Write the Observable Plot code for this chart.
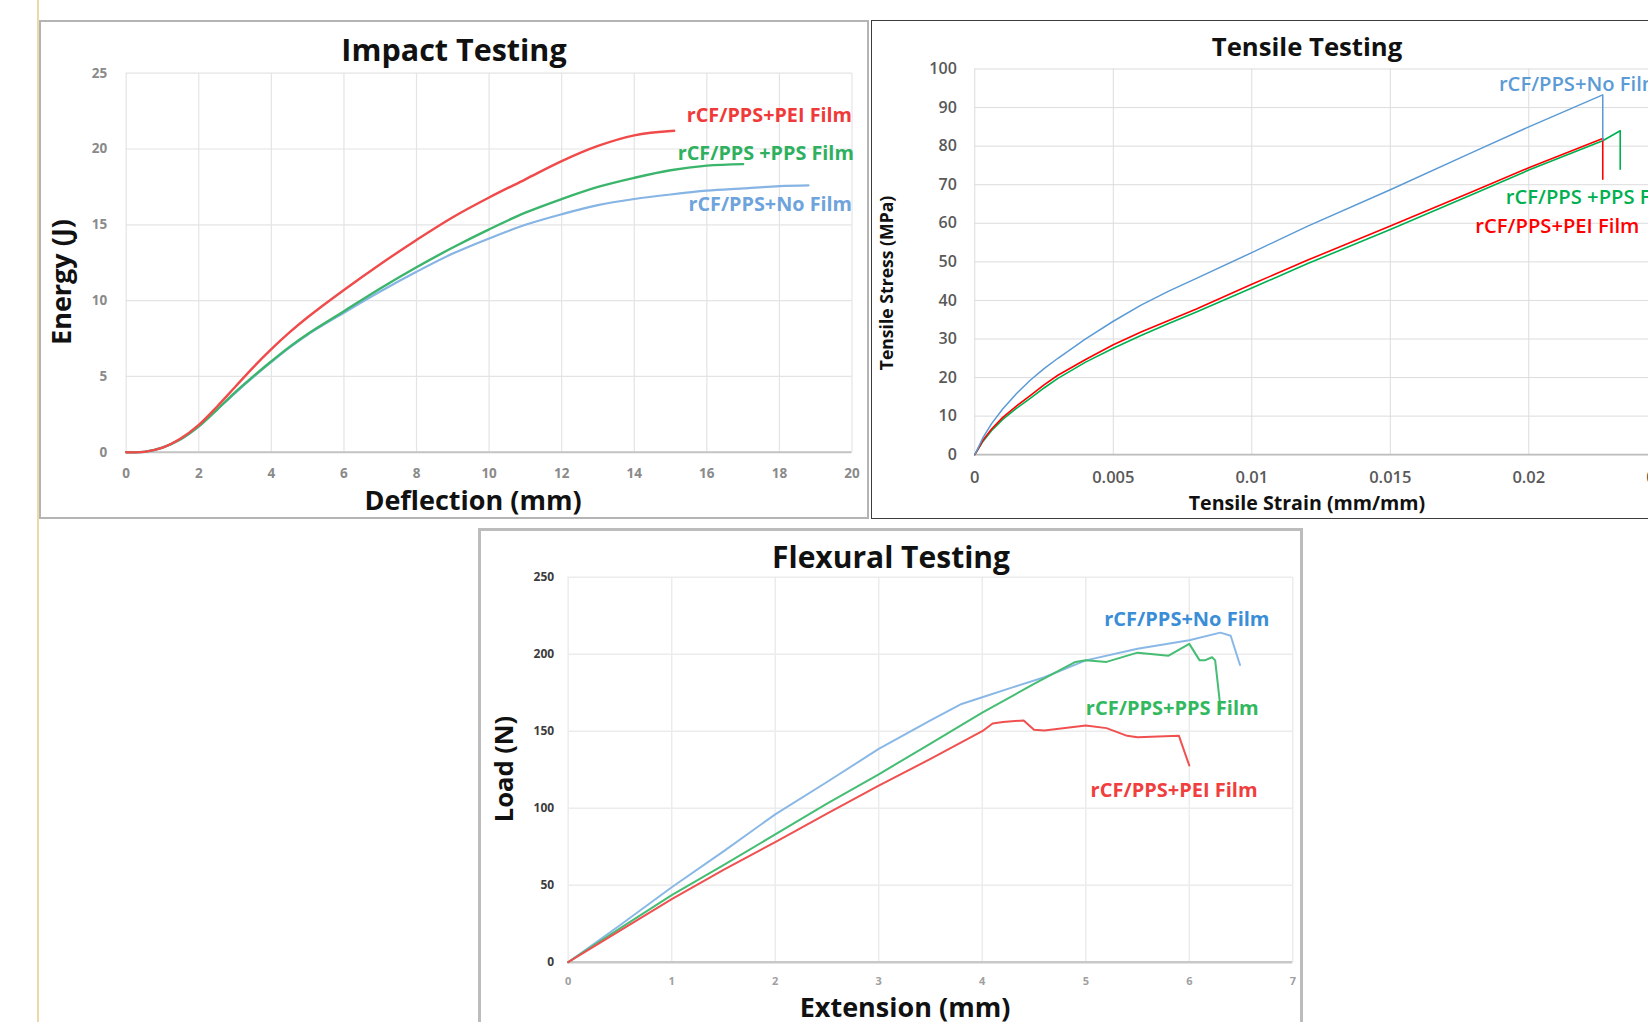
<!DOCTYPE html>
<html><head><meta charset="utf-8">
<script src="https://cdn.jsdelivr.net/npm/d3@7"></script>
<script src="https://cdn.jsdelivr.net/npm/@observablehq/plot@0.6"></script>
<style>
html,body{margin:0;padding:0;background:#fff;}
body{width:1648px;height:1022px;overflow:hidden;position:relative;font-family:"Open Sans",sans-serif;}
.panel{position:absolute;box-sizing:border-box;background:#fff;}
.panel svg{position:absolute;left:0;top:0;overflow:visible;}
.t{position:absolute;white-space:nowrap;line-height:1;font-weight:700;color:#111;font-family:"Open Sans",sans-serif;}
</style></head><body>
<div style="position:absolute;left:37px;top:0;width:1.5px;height:1022px;background:#eed8a8"></div>
<div id="impact" class="panel" style="left:39px;top:20px;width:830px;height:499px;border:2px solid #b4b4b4"></div>
<div id="tensile" class="panel" style="left:871px;top:20px;width:900px;height:499px;border:1px solid #3c3c3c"></div>
<div id="flexural" class="panel" style="left:478px;top:528px;width:825px;height:520px;border:3px solid #bcbcbc"></div>
<script>
// ---------------- Impact Testing ----------------
const impactXTicks = [0, 2, 4, 6, 8, 10, 12, 14, 16, 18, 20];
const impactYTicks = [0, 5, 10, 15, 20, 25];
const impactPEI_x = [0, 0.5, 1, 1.5, 2, 2.5, 3, 3.5, 4, 4.5, 5, 6, 7, 8, 9, 10, 11, 12, 13, 14, 15.1];
const impactPEI_y = [0, 0.02, 0.3, 0.9, 1.8, 3.0, 4.3, 5.6, 6.8, 7.9, 8.9, 10.7, 12.4, 14.0, 15.5, 16.8, 18.0, 19.2, 20.2, 20.9, 21.2];
const impactPPS_x = [0, 0.5, 1, 1.5, 2, 2.5, 3, 3.5, 4, 4.5, 5, 6, 7, 8, 9, 10, 11, 12, 13, 14, 15, 16, 17];
const impactPPS_y = [0, 0.02, 0.3, 0.85, 1.7, 2.8, 3.95, 5.0, 6.0, 6.95, 7.8, 9.3, 10.8, 12.2, 13.5, 14.7, 15.8, 16.7, 17.5, 18.1, 18.6, 18.9, 19.0];
const impactNo_x = [0, 0.5, 1, 1.5, 2, 2.5, 3, 3.5, 4, 4.5, 5, 6, 7, 8, 9, 10, 11, 12, 13, 14, 15, 16, 17, 18, 18.8];
const impactNo_y = [0, 0.02, 0.3, 0.85, 1.7, 2.8, 3.9, 4.95, 5.95, 6.9, 7.75, 9.2, 10.6, 11.9, 13.1, 14.1, 15.0, 15.7, 16.3, 16.7, 17.0, 17.25, 17.4, 17.55, 17.6];
const impactLabels = ["rCF/PPS+PEI Film", "rCF/PPS +PPS Film", "rCF/PPS+No Film"];
const impactLabelX = [20, 20.05, 20];
const impactLabelY = [22.2, 19.7, 16.3];

// ---------------- Tensile Testing ----------------
const tensileXTicks = [0, 0.005, 0.01, 0.015, 0.02, 0.025];
const tensileYTicks = [0, 10, 20, 30, 40, 50, 60, 70, 80, 90, 100];
const tensileNo_x = [0, 0.0003, 0.0006, 0.001, 0.0015, 0.002, 0.0025, 0.003, 0.004, 0.005, 0.006, 0.007, 0.008, 0.01, 0.012, 0.015, 0.018, 0.02, 0.02267, 0.02267];
const tensileNo_y = [0, 4.5, 8, 11.8, 15.8, 19.3, 22.3, 25, 30, 34.6, 38.8, 42.4, 45.7, 52.4, 59.2, 68.7, 78.5, 85, 93.3, 81.5];
const tensilePEI_x = [0, 0.0003, 0.0006, 0.001, 0.0015, 0.002, 0.0025, 0.003, 0.004, 0.005, 0.006, 0.007, 0.008, 0.01, 0.012, 0.015, 0.018, 0.02, 0.02267, 0.02267];
const tensilePEI_y = [0, 3.8, 6.6, 9.6, 12.6, 15.3, 18.1, 20.6, 24.7, 28.5, 31.8, 34.8, 37.8, 44.2, 50.4, 59.3, 68.3, 74.4, 82, 71.4];
const tensilePPS_x = [0, 0.0003, 0.0006, 0.001, 0.0015, 0.002, 0.0025, 0.003, 0.004, 0.005, 0.006, 0.007, 0.008, 0.01, 0.012, 0.015, 0.018, 0.02, 0.02267, 0.0233, 0.0233];
const tensilePPS_y = [0, 3.5, 6.2, 9.1, 12.0, 14.6, 17.3, 19.8, 24.0, 27.6, 30.9, 34.0, 37.0, 43.2, 49.5, 58.4, 67.6, 73.8, 81.4, 84, 74];
const tensileLabels = ["rCF/PPS+No Film", "rCF/PPS +PPS Film", "rCF/PPS+PEI Film"];
const tensileLabelX = [0.01892, 0.01917, 0.01807];
const tensileLabelY = [95.9, 66.6, 59.1];

// ---------------- Flexural Testing ----------------
const flexXTicks = [0, 1, 2, 3, 4, 5, 6, 7];
const flexYTicks = [0, 50, 100, 150, 200, 250];
const flexNo_x = [0, 0.5, 1, 1.5, 2, 2.5, 3, 3.5, 3.8, 4, 4.3, 4.6, 5, 5.5, 6, 6.3, 6.4, 6.49];
const flexNo_y = [0, 24, 48.7, 72, 96, 117, 138.5, 157, 167.7, 172, 178.6, 185, 196, 203.5, 209, 214, 212, 193];
const flexPPS_x = [0, 0.5, 1, 1.5, 2, 2.5, 3, 3.5, 4, 4.5, 4.9, 5, 5.2, 5.5, 5.8, 6.0, 6.1, 6.15, 6.22, 6.25, 6.3];
const flexPPS_y = [0, 22, 43.5, 63, 83, 103, 122, 142, 162, 180.7, 195, 196, 195, 201, 199, 206.7, 196, 196, 198, 196, 166];
const flexPEI_x = [0, 0.5, 1, 1.5, 2, 2.5, 3, 3.5, 4, 4.1, 4.2, 4.4, 4.5, 4.6, 5, 5.2, 5.4, 5.5, 5.9, 6.0];
const flexPEI_y = [0, 20.5, 41, 60, 78, 96.5, 114.7, 132, 150, 155, 156, 157, 151, 150.5, 153.7, 152, 147, 146, 147, 127.7];
const flexLabels = ["rCF/PPS+No Film", "rCF/PPS+PPS Film", "rCF/PPS+PEI Film"];
const flexLabelX = [6.775, 6.67, 6.66];
const flexLabelY = [222.5, 164.5, 111.2];

// ---------------- helpers ----------------
const zip = (xs, ys) => xs.map((x, i) => ({x, y: ys[i]}));
const labelRows = (texts, xs, ys, colors) => texts.map((text, i) => ({text, x: xs[i], y: ys[i], color: colors[i]}));
const fam = "'Open Sans', sans-serif";

function put(text, cx, cy, size, rotate, color) {
  const d = document.createElement("div");
  d.className = "t";
  d.textContent = text;
  d.style.fontSize = size + "px";
  if (color) d.style.color = color;
  const off = 0.15 * size; // centre glyphs (cap top to descender) on (cx, cy)
  d.style.left = (rotate ? cx - off : cx) + "px";
  d.style.top = (rotate ? cy : cy - off) + "px";
  d.style.transform = rotate ? "translate(-50%,-50%) rotate(-90deg)" : "translate(-50%,-50%)";
  document.body.appendChild(d);
}

// ---------------- Impact plot ----------------
const impC = {pei: "#f04a4a", pps: "#3bb56c", no: "#86b4e4"};
const impLabC = ["#f03a3a", "#2eb05e", "#6ea3dc"];
const impact = Plot.plot({
  width: 826, height: 495,
  marginLeft: 84.7, marginRight: 15.5, marginTop: 50.7, marginBottom: 65.3,
  x: {domain: [0, 20]},
  y: {domain: [0, 25]},
  style: {fontFamily: fam, background: "transparent", overflow: "visible"},
  marks: [
    Plot.gridX(impactXTicks, {stroke: "#e4e4e4", strokeOpacity: 1, strokeWidth: 1.2}),
    Plot.gridY(impactYTicks, {stroke: "#e4e4e4", strokeOpacity: 1, strokeWidth: 1.2}),
    Plot.ruleY([0], {stroke: "#c4c4c4", strokeWidth: 2}),
    Plot.axisX(impactXTicks, {tickSize: 0, tickPadding: 16.5, fontSize: 13.5, fontWeight: "bold", color: "#8a8a8a", label: null}),
    Plot.axisY(impactYTicks, {tickSize: 0, tickPadding: 19, fontSize: 13.5, fontWeight: "bold", color: "#8a8a8a", label: null}),
    Plot.line(zip(impactNo_x, impactNo_y), {x: "x", y: "y", stroke: impC.no, strokeWidth: 2.2, curve: "catmull-rom"}),
    Plot.line(zip(impactPPS_x, impactPPS_y), {x: "x", y: "y", stroke: impC.pps, strokeWidth: 2.4, curve: "catmull-rom"}),
    Plot.line(zip(impactPEI_x, impactPEI_y), {x: "x", y: "y", stroke: impC.pei, strokeWidth: 2.4, curve: "catmull-rom"}),
    Plot.text(labelRows(impactLabels, impactLabelX, impactLabelY, impLabC), {x: "x", y: "y", text: "text", fill: "color", textAnchor: "end", fontSize: 19.8, fontWeight: "bold", fontFamily: fam})
  ]
});
document.getElementById("impact").appendChild(impact);

// ---------------- Tensile plot ----------------
const tenC = ["#5b9bd5", "#00b050", "#ff0000"];
const tensile = Plot.plot({
  width: 898, height: 497,
  marginLeft: 102.3, marginRight: 103.2, marginTop: 47.5, marginBottom: 63.8,
  x: {domain: [0, 0.025]},
  y: {domain: [0, 100]},
  style: {fontFamily: fam, background: "transparent", overflow: "visible"},
  marks: [
    Plot.gridX(tensileXTicks, {stroke: "#dcdcdc", strokeOpacity: 1, strokeWidth: 1}),
    Plot.gridY(tensileYTicks, {stroke: "#dcdcdc", strokeOpacity: 1, strokeWidth: 1}),
    Plot.ruleY([0], {stroke: "#bdbdbd", strokeWidth: 1.8}),
    Plot.axisX(tensileXTicks, {tickSize: 0, tickPadding: 16.5, fontSize: 16.5, fontWeight: 600, color: "#595959", label: null, tickFormat: d => String(d)}),
    Plot.axisY(tensileYTicks, {tickSize: 0, tickPadding: 18, fontSize: 16, fontWeight: 600, color: "#595959", label: null}),
    Plot.line(zip(tensilePPS_x, tensilePPS_y), {x: "x", y: "y", stroke: tenC[1], strokeWidth: 1.6}),
    Plot.line(zip(tensilePEI_x, tensilePEI_y), {x: "x", y: "y", stroke: tenC[2], strokeWidth: 1.6}),
    Plot.line(zip(tensileNo_x, tensileNo_y), {x: "x", y: "y", stroke: tenC[0], strokeWidth: 1.5}),
    Plot.text(labelRows(tensileLabels, tensileLabelX, tensileLabelY, tenC), {x: "x", y: "y", text: "text", fill: "color", textAnchor: "start", fontSize: 20.2, fontWeight: 600, fontFamily: fam})
  ]
});
document.getElementById("tensile").appendChild(tensile);

// ---------------- Flexural plot ----------------
const flxC = {no: "#8ab8e6", pps: "#45bd73", pei: "#f05050"};
const flxLabC = ["#3a8ed8", "#32b85e", "#f03e3e"];
const flexural = Plot.plot({
  width: 819, height: 514,
  marginLeft: 86.7, marginRight: 7.7, marginTop: 45.7, marginBottom: 83.3,
  x: {domain: [0, 7]},
  y: {domain: [0, 250]},
  style: {fontFamily: fam, background: "transparent", overflow: "visible"},
  marks: [
    Plot.gridX(flexXTicks, {stroke: "#ececec", strokeOpacity: 1, strokeWidth: 1.5}),
    Plot.gridY(flexYTicks, {stroke: "#ececec", strokeOpacity: 1, strokeWidth: 1.5}),
    Plot.ruleY([0], {stroke: "#c8c8c8", strokeWidth: 2.5}),
    Plot.axisX(flexXTicks, {tickSize: 0, tickPadding: 15, fontSize: 11, fontWeight: "bold", color: "#a0a0a0", label: null}),
    Plot.axisY(flexYTicks, {tickSize: 0, tickPadding: 14, fontSize: 12, fontWeight: "bold", color: "#3c3c3c", label: null}),
    Plot.line(zip(flexNo_x, flexNo_y), {x: "x", y: "y", stroke: flxC.no, strokeWidth: 2}),
    Plot.line(zip(flexPPS_x, flexPPS_y), {x: "x", y: "y", stroke: flxC.pps, strokeWidth: 2}),
    Plot.line(zip(flexPEI_x, flexPEI_y), {x: "x", y: "y", stroke: flxC.pei, strokeWidth: 2}),
    Plot.text(labelRows(flexLabels, flexLabelX, flexLabelY, flxLabC), {x: "x", y: "y", text: "text", fill: "color", textAnchor: "end", fontSize: 20, fontWeight: "bold", fontFamily: fam})
  ]
});
document.getElementById("flexural").appendChild(flexural);

// ---------------- titles and axis titles ----------------
put("Impact Testing", 454, 54, 30.5, false);
put("Deflection (mm)", 473, 503, 27, false);
put("Energy (J)", 64, 282, 27, true);

put("Tensile Testing", 1307, 51, 25.7, false);
put("Tensile Strain (mm/mm)", 1307, 506, 19.6, false);
put("Tensile Stress (MPa)", 890, 283, 17.6, true);

put("Flexural Testing", 891, 561.5, 30, false);
put("Extension (mm)", 905, 1010, 27, false);
put("Load (N)", 508, 769, 25.5, true);
</script>
</body></html>
